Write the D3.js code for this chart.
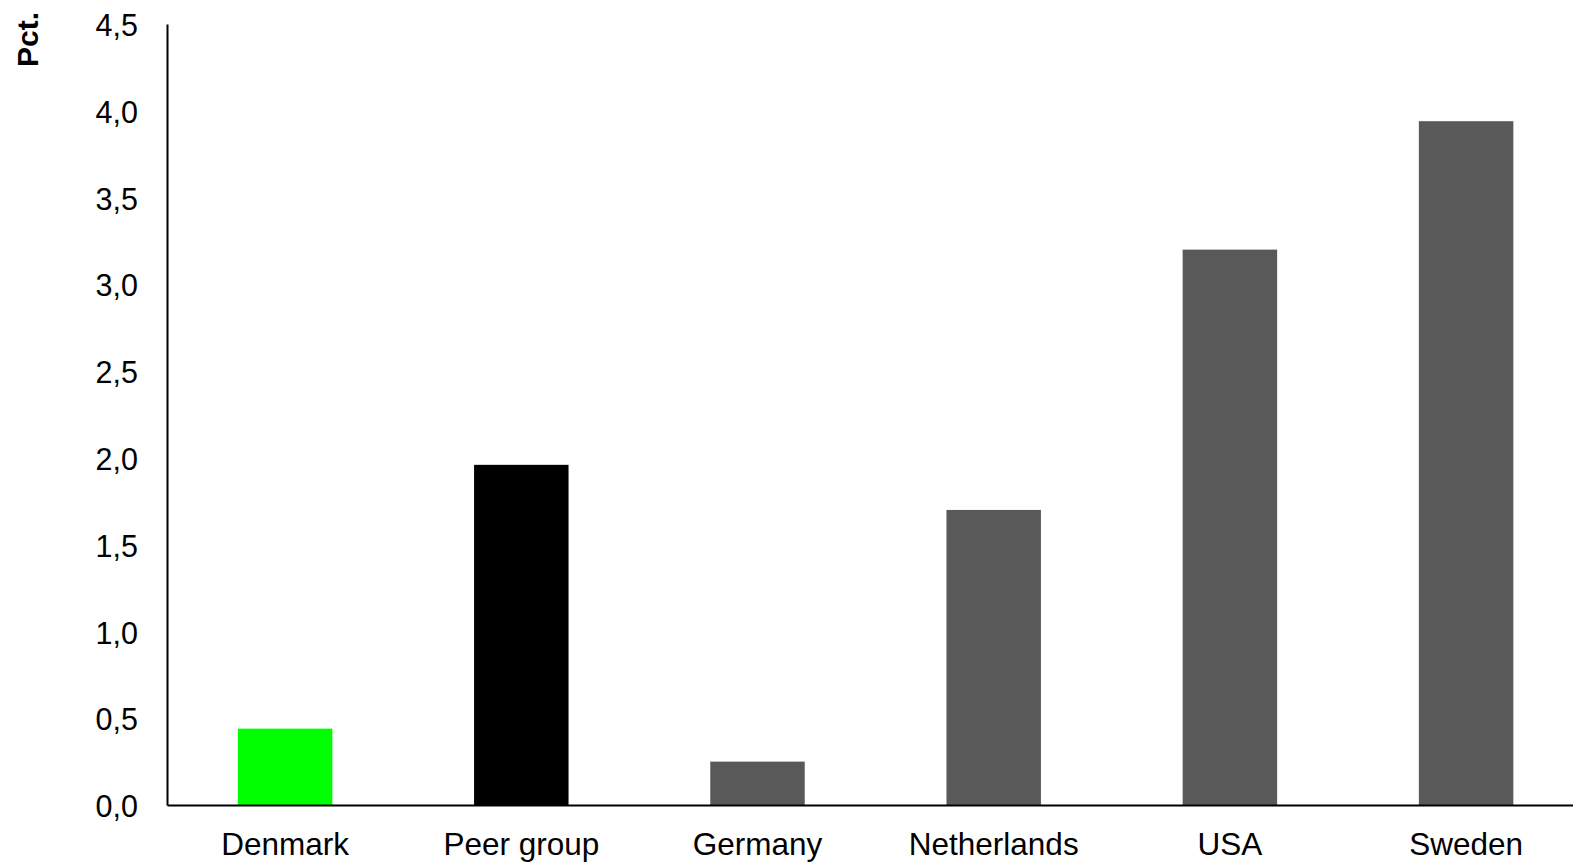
<!DOCTYPE html>
<html>
<head>
<meta charset="utf-8">
<script src="https://cdn.jsdelivr.net/npm/d3@7"></script>
<style>
  html, body { margin: 0; padding: 0; background: #fff; }
  svg { display: block; font-family: "Liberation Sans", Arial, sans-serif; }
</style>
</head>
<body>
<svg id="chart" width="1573" height="863"></svg>
<script>
// Categories and values (pct.)
const categories = ["Denmark", "Peer group", "Germany", "Netherlands", "USA", "Sweden"];
const values = [0.44, 1.96, 0.25, 1.70, 3.20, 3.94];
const barColors = ["#00ff00", "#000000", "#595959", "#595959", "#595959", "#595959"];
const yTicks = [0, 0.5, 1.0, 1.5, 2.0, 2.5, 3.0, 3.5, 4.0, 4.5];
const yLabel = "Pct.";

(function () {
  const svg = d3.select("#chart");
  const plotLeft = 167, plotTop = 24, plotBottom = 805;
  const step = 236.2;
  const plotRight = plotLeft + step * categories.length;

  const x = d3.scaleBand()
    .domain(categories)
    .range([plotLeft, plotRight])
    .paddingInner(0.6)
    .paddingOuter(0.3);

  const y = d3.scaleLinear()
    .domain([0, 4.5])
    .range([plotBottom, plotTop]);

  const data = categories.map((c, i) => ({ c, v: values[i], color: barColors[i] }));

  // Bars
  svg.append("g")
    .selectAll("rect")
    .data(data)
    .join("rect")
    .attr("x", d => x(d.c))
    .attr("width", x.bandwidth())
    .attr("y", d => y(d.v))
    .attr("height", d => y(0) - y(d.v))
    .attr("fill", d => d.color);

  const fmt = v => d3.format(".1f")(v).replace(".", ",");

  // Y axis
  const yAxis = svg.append("g")
    .attr("transform", `translate(${plotLeft},0)`)
    .call(d3.axisLeft(y).tickValues(yTicks).tickFormat(fmt).tickSize(0).tickPadding(29));
  yAxis.select(".domain").attr("stroke", "#000").attr("stroke-width", 2);
  yAxis.selectAll("text")
    .attr("font-size", 30.5)
    .attr("fill", "#000")
    .attr("dy", "0.38em")
    .attr("font-family", "Liberation Sans, Arial, sans-serif");

  // X axis
  const xAxis = svg.append("g")
    .attr("transform", `translate(0,${plotBottom})`)
    .call(d3.axisBottom(x).tickSize(0).tickPadding(28));
  xAxis.select(".domain").attr("stroke", "#000").attr("stroke-width", 2);
  xAxis.selectAll("text")
    .attr("font-size", 31.5)
    .attr("fill", "#000")
    .attr("font-family", "Liberation Sans, Arial, sans-serif");

  // Y axis title
  svg.append("text")
    .attr("transform", "translate(38,12) rotate(-90)")
    .attr("text-anchor", "end")
    .attr("font-size", 30)
    .attr("font-weight", "bold")
    .attr("fill", "#000")
    .text(yLabel);
})();
</script>
</body>
</html>
